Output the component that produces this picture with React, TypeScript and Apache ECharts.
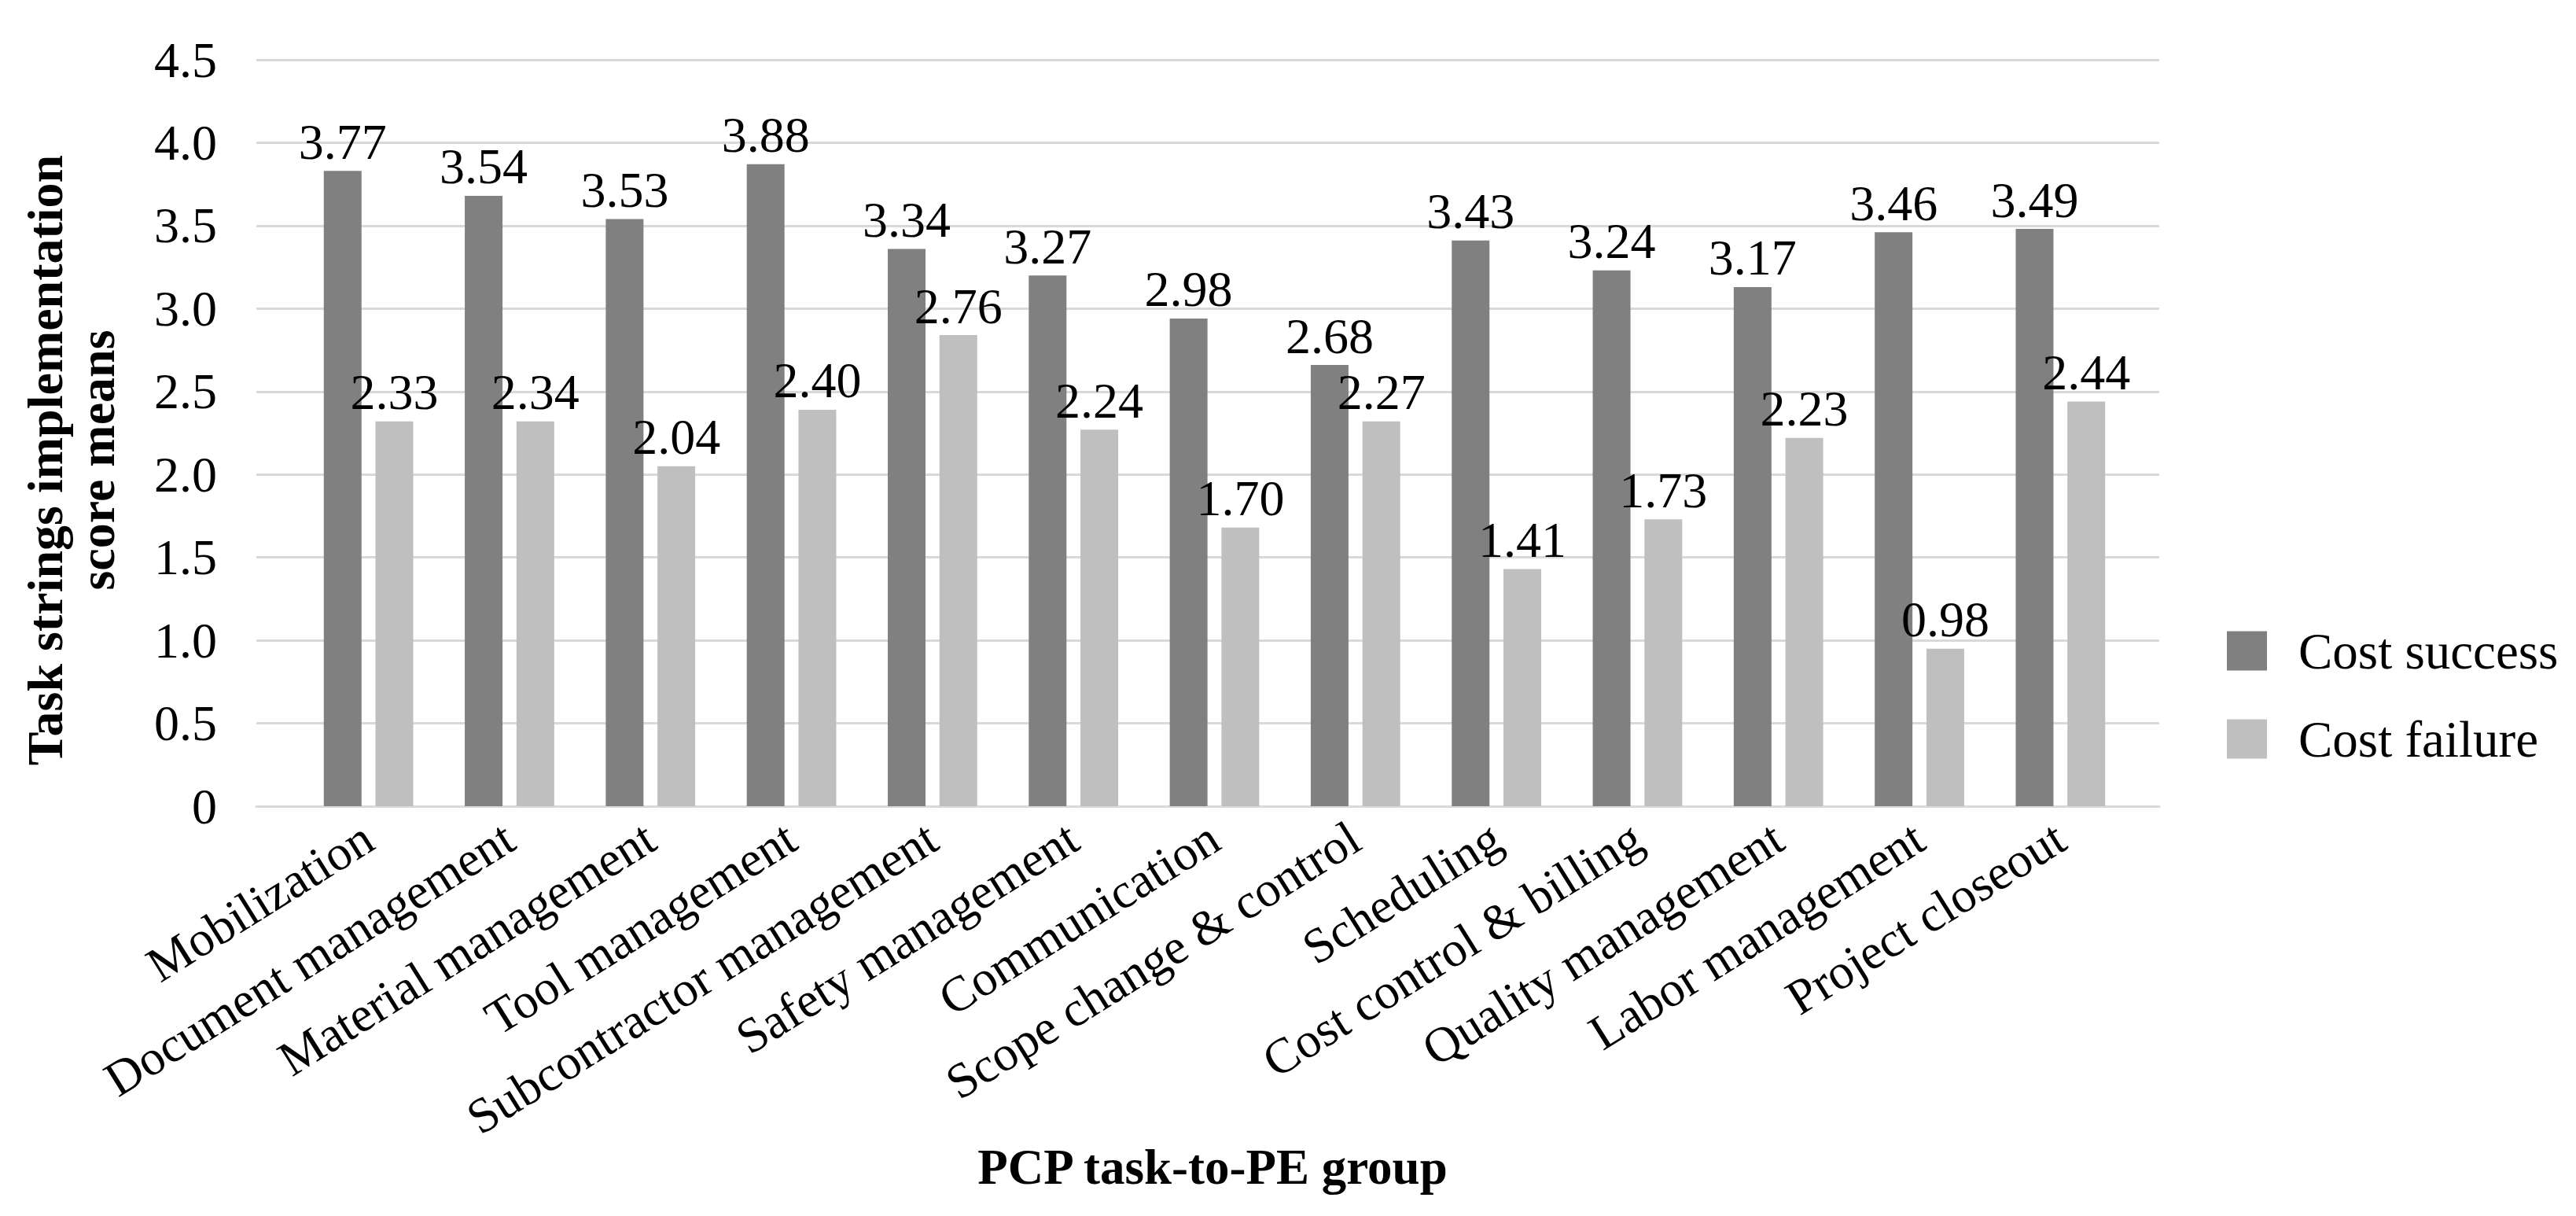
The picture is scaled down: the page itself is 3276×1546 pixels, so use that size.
import React, { useEffect, useRef } from "react";
import * as echarts from "echarts";

const categories = [
  "Mobilization",
  "Document management",
  "Material management",
  "Tool management",
  "Subcontractor management",
  "Safety management",
  "Communication",
  "Scope change & control",
  "Scheduling",
  "Cost control & billing",
  "Quality management",
  "Labor management",
  "Project closeout",
];

// bar heights as drawn in the picture
const successBars = [3.83, 3.68, 3.54, 3.87, 3.36, 3.2, 2.94, 2.66, 3.41, 3.23, 3.13, 3.46, 3.48];
const failureBars = [2.32, 2.32, 2.05, 2.39, 2.84, 2.27, 1.68, 2.32, 1.43, 1.73, 2.22, 0.95, 2.44];

// printed data labels
const successLabels = ["3.77", "3.54", "3.53", "3.88", "3.34", "3.27", "2.98", "2.68", "3.43", "3.24", "3.17", "3.46", "3.49"];
const failureLabels = ["2.33", "2.34", "2.04", "2.40", "2.76", "2.24", "1.70", "2.27", "1.41", "1.73", "2.23", "0.98", "2.44"];

const seriesNames = ["Cost success", "Cost failure"];
const yTicks = { min: 0, max: 4.5, interval: 0.5 };

const FONT = "'Liberation Serif', 'Times New Roman', serif";

export default function App() {
  const ref = useRef<HTMLDivElement>(null);

  useEffect(() => {
    if (!ref.current) return;
    const chart = echarts.init(ref.current, null, { renderer: "svg" });
    const labelStyle = {
      show: true,
      position: "top" as const,
      distance: 5,
      fontSize: 64,
      fontFamily: FONT,
      color: "#000",
    };
    chart.setOption({
      animation: false,
      backgroundColor: "#fff",
      textStyle: { fontFamily: FONT },
      grid: [
        { left: 326, right: 530, top: 76, bottom: 521 },
        { left: 379, right: 566, top: 76, bottom: 521 },
      ],
      xAxis: [
        {
          gridIndex: 0,
          type: "value",
          min: 0,
          max: 1,
          axisLine: { show: true, onZero: false, lineStyle: { color: "#d9d9d9", width: 3 } },
          axisTick: { show: false },
          axisLabel: { show: false },
          splitLine: { show: false },
        },
        {
          gridIndex: 1,
          type: "category",
          data: categories,
          axisLine: { show: false },
          axisTick: { show: false },
          axisLabel: {
            rotate: 32,
            margin: 35,
            fontSize: 63,
            fontFamily: FONT,
            color: "#000",
            interval: 0,
          },
        },
      ],
      yAxis: [
        {
          gridIndex: 0,
          type: "value",
          min: yTicks.min,
          max: yTicks.max,
          interval: yTicks.interval,
          axisLine: { show: false },
          axisTick: { show: false },
          axisLabel: {
            margin: 50,
            fontSize: 64,
            fontFamily: FONT,
            color: "#000",
            formatter: (v: number) => (v === 0 ? "0" : v.toFixed(1)),
          },
          splitLine: { lineStyle: { color: "#d9d9d9", width: 3 } },
        },
        {
          gridIndex: 1,
          type: "value",
          min: yTicks.min,
          max: yTicks.max,
          interval: yTicks.interval,
          show: false,
          splitLine: { show: false },
        },
      ],
      legend: {
        orient: "vertical",
        left: 2832,
        top: 795,
        icon: "rect",
        itemWidth: 51,
        itemHeight: 50,
        itemGap: 47,
        padding: 0,
        data: seriesNames,
        textStyle: { fontSize: 65, fontFamily: FONT, color: "#000", padding: [0, 0, 0, 35] },
      },
      graphic: [
        {
          type: "text",
          x: 90,
          y: 585,
          rotation: Math.PI / 2,
          style: {
            text: "Task strings implementation\nscore means",
            font: `bold 64px ${FONT}`,
            fill: "#000",
            align: "center",
            verticalAlign: "middle",
            lineHeight: 66,
          },
        },
        {
          type: "text",
          x: 1542,
          y: 1484,
          style: {
            text: "PCP task-to-PE group",
            font: `bold 63px ${FONT}`,
            fill: "#000",
            align: "center",
            verticalAlign: "middle",
          },
        },
      ],
      series: [
        {
          name: seriesNames[0],
          type: "bar",
          xAxisIndex: 1,
          yAxisIndex: 1,
          data: successBars,
          barWidth: 48,
          barGap: "37%",
          itemStyle: { color: "#808080" },
          label: { ...labelStyle, formatter: (p: any) => successLabels[p.dataIndex] },
        },
        {
          name: seriesNames[1],
          type: "bar",
          xAxisIndex: 1,
          yAxisIndex: 1,
          data: failureBars,
          barWidth: 48,
          barGap: "37%",
          itemStyle: { color: "#bfbfbf" },
          label: { ...labelStyle, formatter: (p: any) => failureLabels[p.dataIndex] },
        },
      ],
    });
    return () => chart.dispose();
  }, []);

  return (
    <div
      ref={ref}
      style={{ position: "fixed", left: 0, top: 0, width: 3276, height: 1546, background: "#fff" }}
    />
  );
}
